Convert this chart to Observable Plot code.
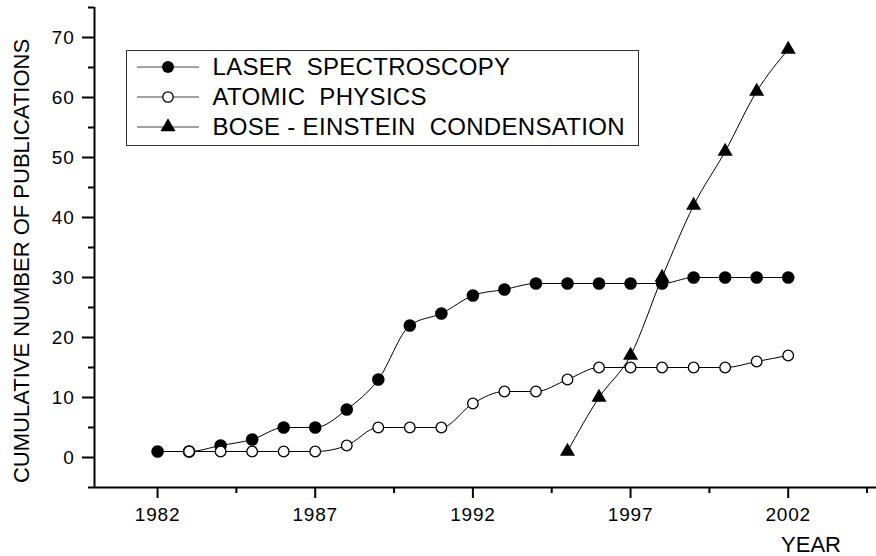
<!DOCTYPE html>
<html>
<head>
<meta charset="utf-8">
<script src="https://cdn.jsdelivr.net/npm/d3@7"></script>
<script src="https://cdn.jsdelivr.net/npm/@observablehq/plot@0.6"></script>
<style>
html, body { margin: 0; padding: 0; background: #fff; }
#wrap { position: relative; width: 876px; height: 556px; font-family: "Liberation Sans", Arial, sans-serif; color: #000; }
#wrap g[aria-label$="tick label"] text { letter-spacing: 0.8px; }
#legend { position: absolute; left: 126px; top: 50px; width: 513px; height: 96px; border: 1.5px solid #333; background: #fff; box-sizing: border-box; }
#legend .row { position: absolute; left: 0; height: 30px; width: 100%; }
#legend svg { position: absolute; left: 9.5px; top: 0; }
#legend .lab { position: absolute; left: 85.5px; top: 0; height: 30px; line-height: 30px; font-size: 24px; letter-spacing: 0.3px; white-space: pre; }
</style>
</head>
<body>
<div id="wrap"></div>
<script>
// ---- data ----
const laserYears = [1982,1983,1984,1985,1986,1987,1988,1989,1990,1991,1992,1993,1994,1995,1996,1997,1998,1999,2000,2001,2002];
const laserValues = [1,1,2,3,5,5,8,13,22,24,27,28,29,29,29,29,29,30,30,30,30];
const atomicYears = [1983,1984,1985,1986,1987,1988,1989,1990,1991,1992,1993,1994,1995,1996,1997,1998,1999,2000,2001,2002];
const atomicValues = [1,1,1,1,1,2,5,5,5,9,11,11,13,15,15,15,15,15,16,17];
const becYears = [1995,1996,1997,1998,1999,2000,2001,2002];
const becValues = [1,10,17,30,42,51,61,68];
const seriesNames = ["LASER  SPECTROSCOPY", "ATOMIC  PHYSICS", "BOSE - EINSTEIN  CONDENSATION"];
const xMajorTicks = [1982,1987,1992,1997,2002];
const xMinorTicks = [1984.5,1989.5,1994.5,1999.5,2004.5];
const yMajorTicks = [0,10,20,30,40,50,60,70];
const yMinorTicks = [-5,5,15,25,35,45,55,65,75];
const xDomain = [1980, 2004.8];
const yDomain = [-5, 75];
const yLabel = "CUMULATIVE NUMBER OF PUBLICATIONS";
const xLabel = "YEAR";

const toRows = (xs, ys) => xs.map((x, i) => ({x, y: ys[i]}));
const laser = toRows(laserYears, laserValues);
const atomic = toRows(atomicYears, atomicValues);
const bec = toRows(becYears, becValues);

const plot = Plot.plot({
  width: 876,
  height: 556,
  marginLeft: 94,
  marginRight: 0,
  marginTop: 7,
  marginBottom: 69,
  style: {fontFamily: '"Liberation Sans", Arial, sans-serif', background: "#fff", color: "#000", overflow: "hidden"},
  x: {domain: xDomain},
  y: {domain: yDomain},
  marks: [
    Plot.axisX(xMajorTicks, {tickSize: 11, tickPadding: 9, fontSize: 19, strokeWidth: 2, tickFormat: d => String(d), label: null}),
    Plot.axisX(xMinorTicks, {tickSize: 6, strokeWidth: 2, tickFormat: () => "", label: null}),
    Plot.axisY(yMajorTicks, {tickSize: 12, tickPadding: 8, fontSize: 19, strokeWidth: 2, tickFormat: d => String(d), label: null}),
    Plot.axisY(yMinorTicks, {tickSize: 6, strokeWidth: 2, tickFormat: () => "", label: null}),
    Plot.ruleY([yDomain[0]], {stroke: "#000", strokeWidth: 2}),
    Plot.ruleX([xDomain[0]], {stroke: "#000", strokeWidth: 2}),
    Plot.line(laser, {x: "x", y: "y", curve: "monotone-x", stroke: "#000", strokeWidth: 1}),
    Plot.dot(laser, {x: "x", y: "y", r: 6.3, fill: "#000", stroke: "none"}),
    Plot.line(atomic, {x: "x", y: "y", curve: "monotone-x", stroke: "#000", strokeWidth: 1}),
    Plot.dot(atomic, {x: "x", y: "y", r: 5.3, fill: "#fff", stroke: "#000", strokeWidth: 1.3}),
    Plot.line(bec, {x: "x", y: "y", curve: "monotone-x", stroke: "#000", strokeWidth: 1}),
    Plot.dot(bec, {x: "x", y: "y", symbol: "triangle", r: 5.6, fill: "#000", stroke: "none"}),
    Plot.text([yLabel], {text: d => d, frameAnchor: "left", rotate: -90, dx: -73, dy: 13.5, fontSize: 22, textAnchor: "middle", lineAnchor: "middle", fill: "#000"}),
    Plot.text([xLabel], {text: d => d, frameAnchor: "bottom", dx: 325.5, dy: 57, fontSize: 22, textAnchor: "middle", lineAnchor: "middle", fill: "#000"})
  ]
});

const wrap = document.getElementById("wrap");
wrap.appendChild(plot);

// ---- legend (HTML overlay) ----
const legend = document.createElement("div");
legend.id = "legend";
const markers = ["filled", "open", "triangle"];
seriesNames.forEach((name, i) => {
  const row = document.createElement("div");
  row.className = "row";
  row.style.top = (0.5 + i * 30) + "px";
  const svg = d3.create("svg").attr("width", 62).attr("height", 30);
  svg.append("line").attr("x1", 0).attr("x2", 62).attr("y1", 15).attr("y2", 15).attr("stroke", "#444").attr("stroke-width", 1);
  if (markers[i] === "filled") {
    svg.append("circle").attr("cx", 31).attr("cy", 15).attr("r", 6).attr("fill", "#000");
  } else if (markers[i] === "open") {
    svg.append("circle").attr("cx", 31).attr("cy", 15).attr("r", 5.2).attr("fill", "#fff").attr("stroke", "#000").attr("stroke-width", 1.3);
  } else {
    svg.append("path").attr("transform", "translate(31,15)").attr("d", d3.symbol(d3.symbolTriangle, Math.PI * 5.6 * 5.6)()).attr("fill", "#000");
  }
  row.appendChild(svg.node());
  const lab = document.createElement("div");
  lab.className = "lab";
  lab.textContent = name;
  row.appendChild(lab);
  legend.appendChild(row);
});
wrap.appendChild(legend);
</script>
</body>
</html>
